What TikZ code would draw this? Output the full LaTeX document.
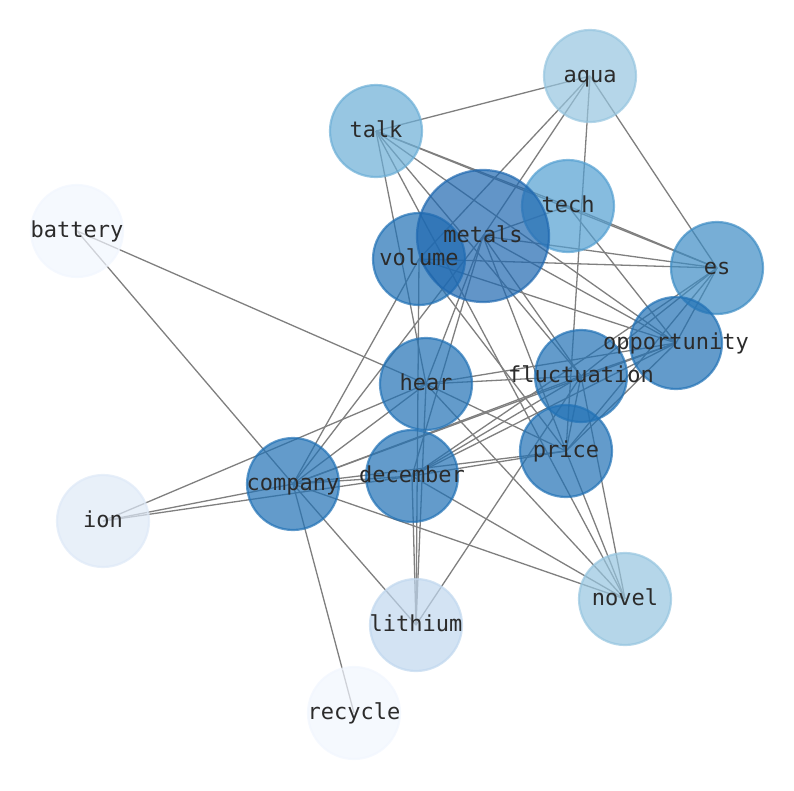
\documentclass[tikz,border=0pt]{standalone}
\usepackage{fontspec}
\setmonofont{DejaVu Sans Mono}
\usepackage{xcolor}
\usepackage{tikz}
\definecolor{Ink}{HTML}{2B2B2B}
\definecolor{Link}{HTML}{7F7F7F}
\definecolor{Blue9}{HTML}{1F68B0}
\definecolor{Blue8}{HTML}{2171B5}
\definecolor{Blue7}{HTML}{3D8CC4}
\definecolor{Blue6}{HTML}{539FD1}
\definecolor{Blue5}{HTML}{6BAED6}
\definecolor{Blue4}{HTML}{96C5DF}
\definecolor{Blue3}{HTML}{C0D7EE}
\definecolor{Blue2}{HTML}{DEE9F7}
\definecolor{Blue1}{HTML}{F1F6FE}
\pgfdeclarelayer{back}
\pgfsetlayers{back,main}
\tikzset{
  term/.style={circle,draw=#1,fill=#1,minimum size=92pt,inner sep=0pt,line width=2.2pt,fill opacity=0.7,draw opacity=0.7},
  term/.default=Blue8,
  word/.style={text=Ink,inner sep=0pt,font=\ttfamily\fontsize{22}{24}\selectfont,text height=16.5pt,text depth=4.4pt},
  link/.style={color=Link,line width=1.3pt}
}
\begin{document}
\begin{tikzpicture}[x=1pt,y=-1pt]
  \useasboundingbox (0,0) rectangle (794,790);
  % terms
  \node[term=Blue4] (aqua) at (590,76) {};
  \node[term=Blue5] (talk) at (376,131) {};
  \node[term=Blue1] (battery) at (77,231) {};
  \node[term=Blue8] (volume) at (419,259) {};
  \node[term=Blue6] (tech) at (568,206) {};
  \node[term=Blue9,minimum size=132pt] (metals) at (483,236) {};
  \node[term=Blue7] (es) at (717,268) {};
  \node[term=Blue8] (opportunity) at (676,343) {};
  \node[term=Blue8] (fluctuation) at (581,376) {};
  \node[term=Blue8] (hear) at (426,384) {};
  \node[term=Blue8] (price) at (566,451) {};
  \node[term=Blue8] (december) at (412,476) {};
  \node[term=Blue8] (company) at (293,484) {};
  \node[term=Blue2] (ion) at (103,521) {};
  \node[term=Blue4] (novel) at (625,599) {};
  \node[term=Blue3] (lithium) at (416,625) {};
  \node[term=Blue1] (recycle) at (354,713) {};
  % labels on top
  \foreach \w in {aqua,talk,battery,volume,tech,metals,es,opportunity,fluctuation,hear,price,december,company,ion,novel,lithium,recycle}
    \node[word] at (\w) {\w};
  % links behind
  \begin{pgfonlayer}{back}
    \foreach \a/\b in {talk/aqua,talk/tech,talk/es,talk/hear,talk/opportunity,talk/fluctuation,talk/novel,
      aqua/metals,aqua/volume,aqua/price,aqua/es,
      tech/es,tech/metals,tech/opportunity,
      metals/es,metals/opportunity,metals/fluctuation,metals/price,metals/hear,metals/december,metals/company,
      volume/es,volume/opportunity,volume/price,volume/company,volume/lithium,
      es/opportunity,es/fluctuation,es/price,es/december,
      battery/hear,battery/company,
      ion/hear,ion/company,ion/december,
      hear/company,hear/fluctuation,hear/opportunity,hear/price,hear/novel,hear/lithium,
      december/company,december/price,december/fluctuation,december/opportunity,december/novel,december/lithium,
      company/price,company/fluctuation,company/opportunity,company/novel,company/lithium,company/recycle,
      fluctuation/price,fluctuation/novel,fluctuation/lithium,fluctuation/opportunity,
      price/opportunity,price/novel}
      \draw[link] (\a.center) -- (\b.center);
  \end{pgfonlayer}
\end{tikzpicture}
\end{document}
